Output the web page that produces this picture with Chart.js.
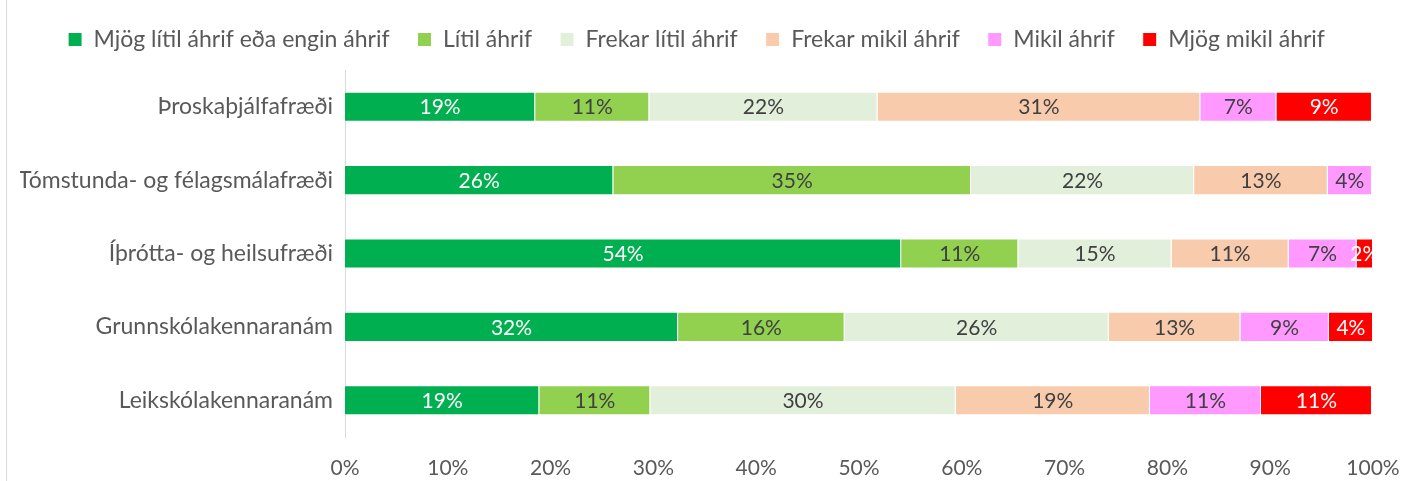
<!DOCTYPE html>
<html>
<head>
<meta charset="utf-8">
<script src="https://cdn.jsdelivr.net/npm/chart.js@4/dist/chart.umd.min.js"></script>
<style>
  body { margin: 0; background: #fff; }
  #wrap { width: 1421px; height: 481px; position: relative; }
</style>
</head>
<body>
<div id="wrap"><canvas id="impactChart"></canvas></div>
<script>
const categories = ['Þroskaþjálfafræði', 'Tómstunda- og félagsmálafræði', 'Íþrótta- og heilsufræði', 'Grunnskólakennaranám', 'Leikskólakennaranám'];
const seriesNames = ['Mjög lítil áhrif eða engin áhrif', 'Lítil áhrif', 'Frekar lítil áhrif', 'Frekar mikil áhrif', 'Mikil áhrif', 'Mjög mikil áhrif'];
const veryLittle = [18.5, 26.1, 54.1, 32.4, 18.9];
const little = [11.1, 34.8, 11.4, 16.2, 10.8];
const ratherLittle = [22.2, 21.7, 14.9, 25.7, 29.7];
const ratherMuch = [31.4, 13.0, 11.4, 12.8, 18.9];
const much = [7.4, 4.3, 6.6, 8.6, 10.8];
const veryMuch = [9.3, 0, 1.6, 4.3, 10.8];
const xTicks = [0, 10, 20, 30, 40, 50, 60, 70, 80, 90, 100];

const colors = ['#00B050', '#92D050', '#E2EFDA', '#F8CBAD', '#FF99FF', '#FF0000'];
const labelColors = ['#ffffff', '#404040', '#404040', '#404040', '#404040', '#ffffff'];
const font = 'Lato, "Open Sans", sans-serif';

// simple value labels in the middle of each segment
const barLabels = {
    id: 'barLabels',
    afterDatasetsDraw(chart) {
        const ctx = chart.ctx;
        ctx.save();
        ctx.font = '21px ' + font;
        ctx.textAlign = 'center';
        ctx.textBaseline = 'middle';
        chart.data.datasets.forEach((ds, i) => {
            const meta = chart.getDatasetMeta(i);
            meta.data.forEach((bar, j) => {
                const v = ds.data[j];
                if (!v) return;
                ctx.fillStyle = labelColors[i];
                ctx.fillText(Math.round(v) + '%', (bar.x + bar.base) / 2, bar.y + 1);
            });
        });
        ctx.restore();
    }
};

// chart frame line on the left + fixed legend height
const frameLine = {
    id: 'frameLine',
    beforeLayout(chart) {
        const lg = chart.legend;
        if (lg && !lg._patched) {
            const fit = lg.fit;
            lg.fit = function () { fit.call(this); this.height = 70; };
            lg._patched = true;
        }
    },
    beforeDraw(chart) {
        const ctx = chart.ctx;
        ctx.save();
        ctx.strokeStyle = '#d9d9d9';
        ctx.lineWidth = 1;
        ctx.beginPath();
        ctx.moveTo(6.5, 0);
        ctx.lineTo(6.5, chart.height);
        ctx.stroke();
        ctx.restore();
    }
};

const seriesValues = [veryLittle, little, ratherLittle, ratherMuch, much, veryMuch];

const ctx = document.getElementById('impactChart').getContext('2d');
new Chart(ctx, {
    type: 'bar',
    data: {
        labels: categories,
        datasets: seriesNames.map((name, i) => ({
            label: name,
            data: seriesValues[i],
            backgroundColor: colors[i],
            borderColor: '#ffffff',
            borderWidth: 1,
            barPercentage: 0.82,
            categoryPercentage: 0.5
        }))
    },
    options: {
        indexAxis: 'y',
        responsive: true,
        maintainAspectRatio: false,
        animation: false,
        layout: { padding: { top: 0, right: 48, bottom: 0, left: 20 } },
        scales: {
            x: {
                stacked: true,
                min: 0,
                max: 100,
                afterBuildTicks: scale => { scale.ticks = xTicks.map(v => ({ value: v })); },
                afterFit: scale => { scale.height = 44; },
                ticks: {
                    callback: v => v + '%',
                    color: '#595959',
                    font: { family: font, size: 21 },
                    padding: 11
                },
                grid: { display: false },
                border: { display: false }
            },
            y: {
                stacked: true,
                afterFit: scale => { scale.width = 325; },
                ticks: {
                    color: '#595959',
                    font: { family: font, size: 23 },
                    padding: 4
                },
                grid: { display: false },
                border: { display: true, color: '#d9d9d9', width: 1 }
            }
        },
        plugins: {
            legend: {
                position: 'top',
                labels: {
                    boxWidth: 14,
                    boxHeight: 14,
                    padding: 28,
                    color: '#595959',
                    font: { family: font, size: 23 }
                }
            },
            tooltip: { enabled: false }
        }
    },
    plugins: [barLabels, frameLine]
});
</script>
</body>
</html>
